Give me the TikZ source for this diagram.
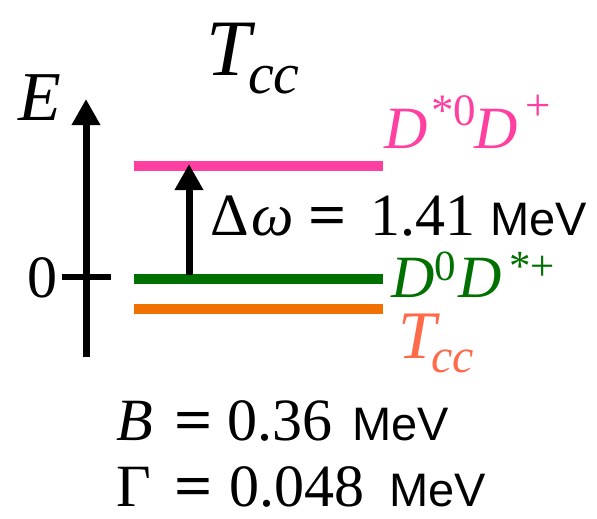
\documentclass[tikz,border=0pt]{standalone}
\usepackage{fontspec}
\setmainfont{Liberation Serif}
\setsansfont{Liberation Sans}
\usetikzlibrary{arrows.meta}
\definecolor{lvlpink}{HTML}{FF40A0}
\definecolor{lvlgreen}{HTML}{007000}
\definecolor{lvlorange}{HTML}{F07000}
\definecolor{lblcoral}{HTML}{FF6A4A}
\newcommand{\bigtxt}{\fontsize{60}{66}\selectfont}
\newcommand{\mevtxt}{\fontsize{47}{52}\selectfont\sffamily}
\newcommand{\suptxt}{\fontsize{45}{50}\selectfont}
\newcommand{\eqsign}{\scalebox{1.12}[1]{\textbf{=}}}
\begin{document}
\begin{tikzpicture}[x=1pt,y=-1pt,
  axisline/.style={line width=7pt,-{Triangle[length=26pt,width=27pt]}},
  tickline/.style={line width=6pt},
  lvl/.style={line width=10pt},
  tok/.style={inner sep=0pt,anchor=base west,font=\bigtxt},
  stok/.style={inner sep=0pt,anchor=base west,font=\suptxt,text height=0.72em},
  mev/.style={inner sep=0pt,anchor=base west,font=\mevtxt,text depth=0pt}]
\useasboundingbox (0,0) rectangle (597,519);
% axis
\coordinate (ebot) at (86,357);
\coordinate (etop) at (86,99);
\draw[axisline] (ebot) -- (etop);
\coordinate (tl) at (62,277);
\coordinate (tr) at (111,277);
\draw[tickline] (tl) -- (tr);
% levels
\coordinate (pL) at (134,166); \coordinate (pR) at (383,166);
\coordinate (gL) at (134,279); \coordinate (gR) at (383,279);
\coordinate (oL) at (134,309); \coordinate (oR) at (383,309);
\draw[lvl,lvlpink] (pL) -- (pR);
\draw[lvl,lvlgreen] (gL) -- (gR);
\draw[lvl,lvlorange] (oL) -- (oR);
% gap arrow
\coordinate (dbot) at (189,275);
\coordinate (dtop) at (189,164);
\draw[axisline] (dbot) -- (dtop);
% title
\node[tok,font=\fontsize{80}{88}\selectfont] (titT) at (206,75) {\textit{T}};
\node[stok,font=\fontsize{58}{64}\selectfont] (titcc) at (248,93) {\textit{cc}};
% axis labels
\node[tok,font=\fontsize{70}{76}\selectfont] (elab) at (18,120) {\textit{E}};
\node[tok,anchor=base east] (zero) at (58,297) {0};
% pink label
\node[tok,text=lvlpink] (p1) at (384,148) {\textit{D}};
\node[stok,text=lvlpink] (p2) at (431,125) {*0};
\node[tok,text=lvlpink] (p3) at (474,148) {\textit{D}};
\node[stok,text=lvlpink] (p4) at (525,120) {+};
% gap label
\node[tok] (d1) at (210,235) {Δ};
\node[tok] (d2) at (251,235) {\textit{ω}};
\node[tok] (d3) at (308,235) {\eqsign};
\node[tok,text depth=0pt] (d4) at (370,235) {1.41};
\node[mev] (d5) at (490,235) {MeV};
% green label
\node[tok,text=lvlgreen] (g1) at (391,297) {\textit{D}};
\node[stok,text=lvlgreen,font=\fontsize{43}{48}\selectfont,text height=0.7em] (g2) at (434,280) {0};
\node[tok,text=lvlgreen] (g3) at (458,297) {\textit{D}};
\node[stok,text=lvlgreen,font=\fontsize{43}{48}\selectfont,text height=0.7em] (g4) at (509,280) {*+};
% Tcc label
\node[tok,font=\fontsize{68}{74}\selectfont,text=lblcoral] (o1) at (398,358) {\textit{T}};
\node[stok,font=\fontsize{48}{54}\selectfont,text=lblcoral,text height=0.45em] (o2) at (431,372) {\textit{cc}};
% B line
\node[tok] (b1) at (116,440) {\textit{B}};
\node[tok] (b2) at (174,440) {\eqsign};
\node[tok] (b3) at (227,440) {0.36};
\node[mev] (b4) at (352,440) {MeV};
% Gamma line
\node[tok] (w1) at (116,506) {Γ};
\node[tok] (w2) at (174,506) {\eqsign};
\node[tok] (w3) at (229,506) {0.048};
\node[mev] (w4) at (389,506) {MeV};
\end{tikzpicture}
\end{document}
